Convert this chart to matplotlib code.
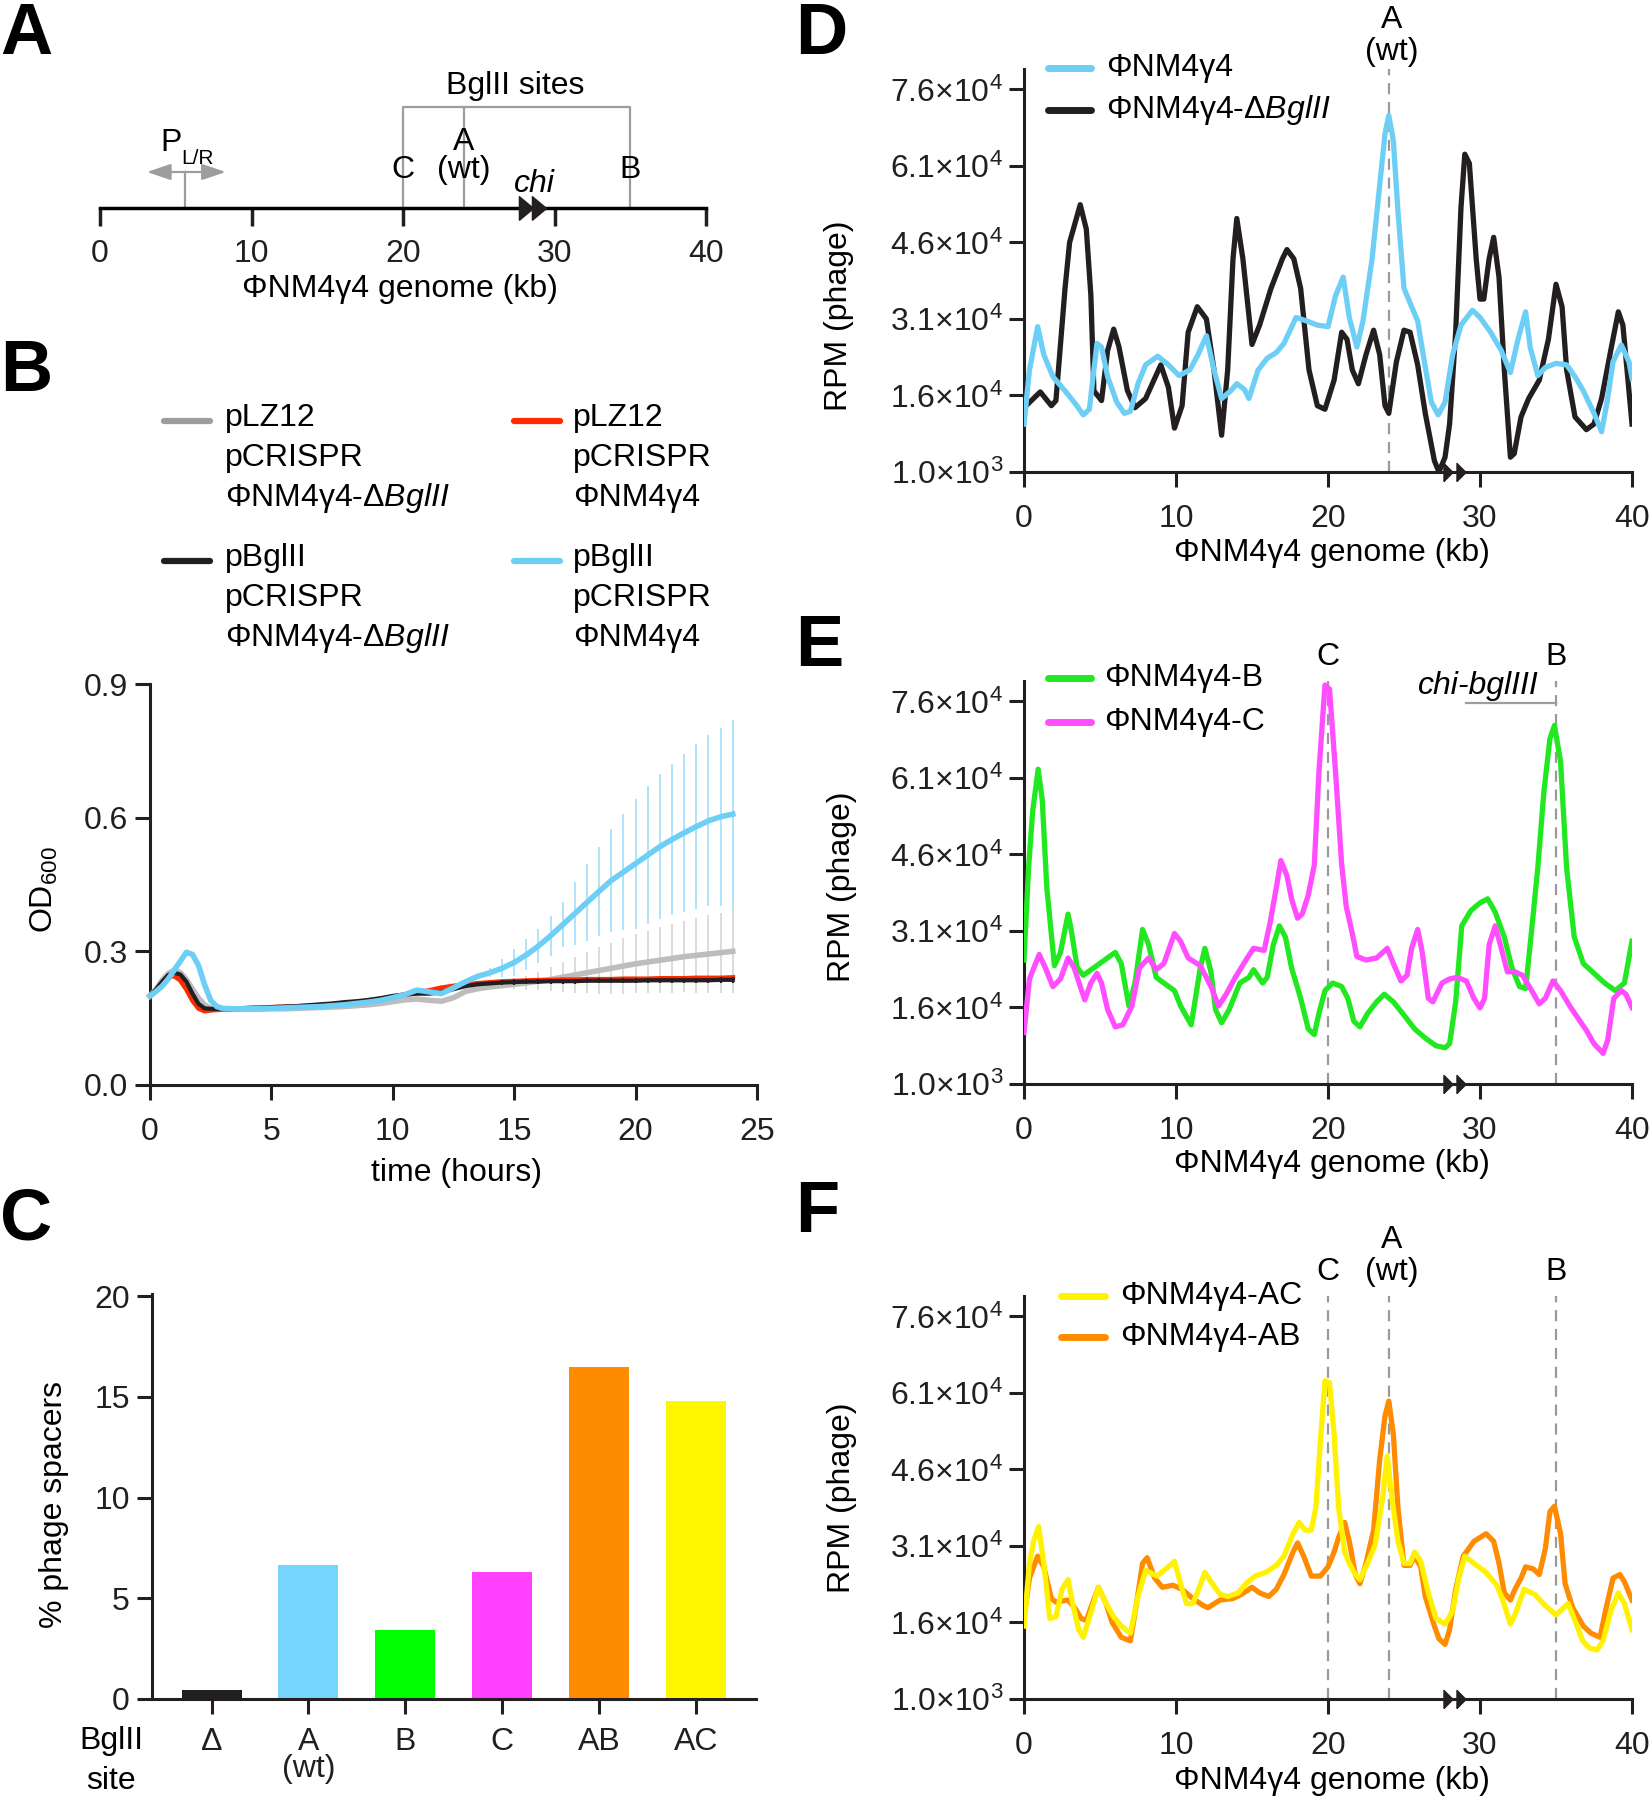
import numpy as np
import matplotlib
matplotlib.use('Agg')
import matplotlib.pyplot as plt
from matplotlib.lines import Line2D

# ---------------- data ----------------
# Panel B : growth curves (OD600)
time_h = np.concatenate([np.arange(0, 3.01, 0.25), np.arange(3.5, 24.01, 0.5)])
od_blue = [0.200, 0.210, 0.222, 0.238, 0.258, 0.278, 0.298, 0.293, 0.268, 0.225, 0.190, 0.176, 0.172,
           0.171, 0.171, 0.172, 0.172, 0.173, 0.174, 0.175, 0.176, 0.178, 0.180, 0.183, 0.186, 0.190, 0.196,
           0.203, 0.213, 0.209, 0.205, 0.218, 0.232, 0.244, 0.252, 0.262, 0.275, 0.292, 0.312, 0.335, 0.360,
           0.385, 0.410, 0.435, 0.459, 0.478, 0.497, 0.516, 0.535, 0.551, 0.566, 0.580, 0.593, 0.602, 0.608]
sd_blue = [0]*13 + [0.002]*20 + [0.006, 0.010, 0.020, 0.030, 0.035, 0.039, 0.045, 0.050, 0.070, 0.087,
           0.100, 0.115, 0.130, 0.146, 0.155, 0.162, 0.170, 0.177, 0.185, 0.192, 0.200, 0.212]
od_grey = [0.200, 0.215, 0.235, 0.250, 0.258, 0.252, 0.237, 0.215, 0.195, 0.180, 0.172, 0.170, 0.170,
           0.170, 0.170, 0.170, 0.171, 0.171, 0.172, 0.173, 0.174, 0.175, 0.176, 0.178, 0.180, 0.183, 0.187,
           0.191, 0.193, 0.190, 0.188, 0.196, 0.210, 0.216, 0.220, 0.223, 0.226, 0.229, 0.233, 0.237, 0.242,
           0.247, 0.252, 0.257, 0.262, 0.267, 0.272, 0.276, 0.280, 0.284, 0.288, 0.291, 0.294, 0.297, 0.300]
sd_grey = [0]*13 + [0.002]*22 + [0.006, 0.010, 0.015, 0.020, 0.027, 0.033, 0.040, 0.046, 0.052, 0.057,
           0.062, 0.066, 0.070, 0.074, 0.077, 0.080, 0.084, 0.087, 0.090, 0.094]
od_red = [0.200, 0.212, 0.228, 0.242, 0.245, 0.235, 0.215, 0.190, 0.172, 0.166, 0.168, 0.169, 0.170,
          0.171, 0.172, 0.173, 0.174, 0.175, 0.176, 0.177, 0.179, 0.181, 0.183, 0.186, 0.189, 0.193, 0.198,
          0.203, 0.207, 0.212, 0.218, 0.222, 0.225, 0.228, 0.230, 0.232, 0.233, 0.234, 0.235, 0.235, 0.236,
          0.236, 0.237, 0.237, 0.237, 0.238, 0.238, 0.238, 0.239, 0.239, 0.239, 0.240, 0.240, 0.240, 0.241]
od_black = [0.200, 0.215, 0.232, 0.247, 0.252, 0.248, 0.232, 0.205, 0.182, 0.172, 0.171, 0.171, 0.172,
            0.172, 0.173, 0.174, 0.175, 0.176, 0.177, 0.179, 0.181, 0.183, 0.186, 0.188, 0.191, 0.195, 0.200,
            0.203, 0.205, 0.205, 0.208, 0.215, 0.222, 0.226, 0.228, 0.230, 0.231, 0.232, 0.232, 0.233, 0.233,
            0.233, 0.234, 0.234, 0.234, 0.234, 0.234, 0.235, 0.235, 0.235, 0.235, 0.235, 0.235, 0.236, 0.236]
sd_black = [0]*13 + [0.002]*22 + [0.006]*20

legend_b = [("pLZ12", "pCRISPR", "ΦNM4γ4-Δ$\\mathit{BglII}$"),
            ("pLZ12", "pCRISPR", "ΦNM4γ4"),
            ("pBglII", "pCRISPR", "ΦNM4γ4-Δ$\\mathit{BglII}$"),
            ("pBglII", "pCRISPR", "ΦNM4γ4")]

# Panel C : % phage spacers
sites = ["Δ", "A\n(wt)", "B", "C", "AB", "AC"]
pct_spacers = [0.45, 6.65, 3.4, 6.3, 16.5, 14.8]

# Panel D-F : RPM ticks
rpm_ticks = [1000, 16000, 31000, 46000, 61000, 76000]
rpm_ticklabels = ["1.0×10$^{3}$", "1.6×10$^{4}$", "3.1×10$^{4}$", "4.6×10$^{4}$", "6.1×10$^{4}$", "7.6×10$^{4}$"]

# Panel D
d_wt_kb = [0, 0.36, 0.9, 1.3, 1.9, 2.7, 3.4, 3.9, 4.3, 4.8, 5.1, 5.5, 6.1, 6.6, 7.0, 7.5, 8.0, 8.8, 9.5, 10.2,
           10.9, 11.4, 12.0, 12.5, 13.0, 13.6, 14.0, 14.5, 14.8, 15.4, 16.0, 16.6, 17.1, 17.9, 18.6, 19.3, 20.0,
           20.5, 21.0, 21.4, 21.9, 22.3, 22.9, 23.4, 23.75, 24.0, 24.3, 24.6, 25.0, 25.5, 25.9, 26.3, 26.8,
           27.25, 27.7, 28.2, 28.75, 29.5, 30.0, 30.7, 31.4, 32.0, 32.5, 33.0, 33.3, 33.8, 34.3, 35.0, 35.7,
           36.25, 36.8, 37.5, 38.0, 38.4, 38.75, 39.3, 39.8, 40]
d_wt_rpm = [10.4, 21, 29.5, 24, 19.7, 16.9, 14.3, 12.2, 13.3, 26.2, 25.5, 19.7, 14.7, 12.5, 12.9, 18.3, 22, 23.7,
            22, 19.9, 21, 23.7, 27.7, 21, 15.4, 16.9, 18.3, 17.2, 15.4, 21, 23.3, 24.4, 26.2, 31.3, 30.6, 29.8,
            29.5, 35.6, 39.2, 31.3, 25.5, 30.6, 42.8, 57.2, 67.3, 70.9, 65.9, 52.2, 37, 33.4, 30.6, 23.3, 14.7,
            12.2, 14.7, 24, 29.8, 32.7, 31.3, 28.4, 24.8, 20.5, 27, 32.4, 25.5, 19.9, 21.5, 22.3, 22, 19.7, 16.9,
            12.5, 8.9, 15.4, 22.6, 25.9, 22.6, 19.4]
d_del_kb = [0, 1.07, 1.8, 2.1, 2.7, 3.0, 3.7, 4.1, 4.4, 4.6, 5.1, 5.5, 5.9, 6.25, 6.8, 7.3, 8.0, 9.0, 9.5, 9.9,
            10.4, 10.8, 11.4, 12.0, 12.5, 13.0, 13.4, 13.75, 14.0, 14.4, 15.0, 15.5, 16.25, 17.0, 17.3, 17.75,
            18.2, 18.75, 19.3, 19.8, 20.4, 20.9, 21.25, 21.6, 22.0, 22.5, 23.0, 23.4, 23.75, 24.0, 24.5, 25.0,
            25.4, 25.9, 26.4, 27.0, 27.3, 27.7, 28.0, 28.4, 28.75, 29.0, 29.3, 29.75, 30.0, 30.25, 30.6, 30.9,
            31.25, 31.6, 32.0, 32.25, 32.7, 33.2, 33.9, 34.5, 35.0, 35.4, 35.7, 36.25, 37.0, 37.5, 38.0, 38.6,
            39.1, 39.4, 39.8, 40]
d_del_rpm = [13.6, 16.7, 14, 15, 37, 46, 53.4, 48.6, 35.6, 16.9, 15, 24.8, 29, 25.5, 17, 13.6, 15.4, 22, 17.6,
             9.6, 14, 28.4, 33.4, 31, 21, 8.2, 21, 42.8, 50.7, 42.8, 26, 29.8, 37, 42.8, 44.6, 42.8, 37, 21, 14,
             13.3, 19, 28.4, 27, 21, 18.3, 24, 28.8, 24, 14, 12.5, 22.6, 28.8, 28.4, 22, 12.5, 3.2, 1, 3.9, 10.4,
             28.4, 52.9, 63.3, 61.5, 42.8, 34.9, 34.9, 42.8, 47, 39.2, 21, 3.9, 4.6, 11.8, 15.4, 19, 27, 37.8,
             33.4, 21, 11.8, 9.3, 10.4, 15.4, 24.8, 32.4, 29.8, 16.9, 10.4]

# Panel E
e_b_kb = [0, 0.3, 0.57, 0.93, 1.2, 1.5, 2.0, 2.4, 2.9, 3.1, 3.5, 3.9, 4.6, 5.3, 6.0, 6.4, 6.9, 7.3, 7.8, 8.2,
          8.7, 9.2, 9.9, 10.3, 11.0, 11.6, 11.9, 12.3, 12.6, 13.0, 13.5, 14.2, 14.8, 15.1, 15.7, 16.0, 16.4,
          16.8, 17.2, 17.6, 18.2, 18.7, 19.1, 19.4, 19.8, 20.3, 20.9, 21.3, 21.7, 22.1, 22.6, 23.2, 23.7, 24.3,
          25.0, 25.7, 26.4, 27.1, 27.7, 28.0, 28.4, 28.8, 29.4, 30.0, 30.5, 31.0, 31.6, 32.1, 32.6, 33.0, 33.3,
          33.8, 34.2, 34.6, 34.9, 35.3, 35.7, 36.2, 36.8, 37.5, 38.2, 38.9, 39.5, 40]
e_b_rpm = [25.3, 43.3, 54.5, 62.7, 56.7, 39.5, 24.2, 26.8, 34.3, 31.3, 23.8, 22.3, 23.8, 25.3, 26.8, 24.6, 16.3,
           20.8, 31.3, 28.3, 21.9, 20.8, 19.3, 16.3, 12.6, 23.8, 27.6, 23, 15.6, 13, 15.6, 20.8, 21.9, 23.4,
           20.8, 21.9, 28.3, 32, 29.8, 23.8, 17.8, 11.8, 10.7, 14.8, 19.3, 20.8, 20.1, 17.8, 13.3, 12.2, 14.8,
           17.1, 18.6, 17.1, 14.5, 11.8, 10, 8.5, 8.1, 8.9, 17.1, 32, 35, 36.5, 37.3, 34.7, 29.8, 23.8, 20.1,
           19.7, 28.3, 43.3, 58.2, 68.7, 71.3, 64.2, 43.3, 29.8, 24.6, 22.7, 20.8, 19.3, 20.8, 29]
e_c_kb = [0, 0.36, 1.0, 1.4, 1.9, 2.4, 2.9, 3.3, 3.7, 4.0, 4.4, 4.8, 5.1, 5.5, 6.0, 6.5, 7.1, 7.6, 8.2, 8.7, 9.2,
          9.9, 10.3, 10.8, 11.6, 12.3, 12.8, 13.3, 13.9, 14.6, 15.1, 15.8, 16.2, 16.6, 16.9, 17.3, 17.6, 18.0,
          18.3, 18.7, 19.1, 19.4, 19.8, 20.1, 20.5, 20.9, 21.2, 21.6, 21.9, 22.5, 23.2, 23.9, 24.3, 24.8, 25.2,
          25.5, 25.9, 26.2, 26.6, 26.9, 27.5, 28.0, 28.5, 29.1, 29.6, 30.0, 30.3, 30.6, 31.0, 31.4, 31.8, 32.3,
          32.8, 33.4, 33.9, 34.3, 34.8, 35.3, 35.9, 36.4, 37.0, 37.5, 38.1, 38.4, 38.8, 39.3, 39.6, 40]
e_c_rpm = [11.1, 21.6, 26.4, 23.8, 20.1, 21.6, 25.7, 23.8, 20.1, 17.5, 20.8, 22.7, 20.8, 15.6, 12.2, 12.6, 16.3,
           23.8, 25.7, 23.4, 24.6, 30.5, 29, 25.7, 24.2, 20.1, 16.3, 18.6, 21.9, 25.3, 27.6, 27.2, 32.8, 39.5,
           44.8, 41.8, 37.3, 33.5, 34.3, 38, 44, 62, 79.2, 78.4, 62, 44, 35.8, 30.5, 26, 25.3, 25.7, 27.6, 24.6,
           21.2, 22.3, 27.6, 31.3, 26.8, 17.8, 17.1, 20.8, 21.6, 21.9, 21.2, 17.8, 15.9, 17.8, 28.3, 32, 27.6,
           23, 23, 22.3, 19.3, 16.7, 17.8, 21.2, 19.3, 16.3, 14.1, 11.5, 8.9, 7, 9.6, 17.8, 19.3, 18.6, 16]

# Panel F
f_ac_kb = [0, 0.36, 0.64, 0.96, 1.3, 1.7, 2.1, 2.5, 2.9, 3.2, 3.6, 3.9, 4.5, 4.9, 5.4, 5.9, 6.4, 7.0, 7.5, 8.0,
           8.75, 9.5, 9.9, 10.4, 10.7, 11.1, 11.4, 11.9, 12.3, 12.9, 13.4, 14.1, 14.6, 15.2, 15.9, 16.6, 17.1,
           17.7, 18.1, 18.5, 18.9, 19.2, 19.5, 19.8, 20.1, 20.4, 20.7, 21.1, 21.4, 21.8, 22.1, 22.6, 23.1, 23.6,
           23.9, 24.2, 24.6, 25.0, 25.4, 25.7, 26.1, 26.6, 27.1, 27.7, 28.2, 28.6, 29.0, 29.6, 30.4, 31.1, 31.5,
           32.0, 32.3, 32.9, 33.6, 34.3, 35.0, 35.4, 35.8, 36.3, 36.75, 37.2, 37.7, 38.1, 38.6, 39.1, 39.5, 40]
f_ac_rpm = [15.3, 27.6, 32, 34.8, 27.6, 16.8, 17.1, 22.5, 24.4, 19.7, 14.6, 13.1, 18.9, 22.9, 19.7, 17.1, 15.3,
            13.9, 21.1, 26.2, 25.1, 26.9, 28, 22.5, 19.7, 19.7, 21.8, 25.8, 24, 21.5, 21.1, 21.8, 23.6, 25.1,
            25.8, 27.2, 29, 33.4, 35.6, 34.1, 34.1, 38.5, 51.5, 63.4, 63, 52.9, 38.5, 29.8, 27.6, 25.4, 24.4,
            27.6, 31.2, 40.6, 48.6, 40.6, 31.9, 27.6, 27.6, 29.8, 28, 21.8, 16.8, 15.7, 18.2, 24.7, 29, 27.6,
            25.8, 23.3, 20.4, 15.7, 17.5, 22.5, 21.5, 19.3, 17.5, 18.6, 19.7, 16, 12.4, 11, 10.6, 12.4, 18.2,
            21.8, 19.7, 14.6]
f_ab_kb = [0, 0.36, 0.9, 1.3, 1.8, 2.1, 2.9, 3.4, 3.75, 4.1, 4.5, 4.9, 5.4, 5.8, 6.4, 7.0, 7.4, 7.8, 8.1, 8.6,
           9.1, 9.8, 10.4, 11.1, 11.8, 12.1, 12.9, 13.75, 14.3, 15.0, 15.5, 16.1, 16.6, 17.1, 17.7, 18.0, 18.4,
           18.9, 19.5, 20.0, 20.4, 20.7, 21.1, 21.4, 21.8, 22.1, 22.5, 23.0, 23.4, 23.75, 24.0, 24.3, 24.6, 25.0,
           25.4, 25.7, 26.1, 26.4, 27.0, 27.3, 27.7, 28.0, 28.4, 28.9, 29.6, 30.4, 30.9, 31.25, 31.6, 32.0, 32.3,
           32.7, 33.0, 33.5, 33.9, 34.3, 34.6, 34.9, 35.3, 35.6, 36.1, 36.8, 37.3, 37.9, 38.25, 38.75, 39.2,
           39.5, 40]
f_ab_rpm = [17.1, 24.7, 29, 26.9, 20.7, 20, 20.4, 18.6, 16.8, 16.4, 19.7, 22.9, 19.7, 16, 13.1, 12.4, 19.7,
            27.6, 28.7, 24.7, 22.9, 23.3, 22.5, 20.7, 19.3, 18.9, 20.4, 20.7, 21.5, 22.9, 21.8, 21.1, 22.5, 25.4,
            29.8, 31.6, 29, 25.1, 25.1, 26.9, 29.8, 32.7, 35.6, 31.9, 25.4, 23.6, 27.6, 34.1, 47.9, 56.5, 59.4,
            52.9, 38.5, 27.2, 27.2, 29, 26.9, 21.1, 15.3, 12.8, 11.7, 14.6, 22.5, 29, 31.9, 33.4, 31.9, 27.6,
            21.8, 20.4, 22.5, 24.7, 26.9, 26.5, 25.4, 30.5, 37.7, 38.8, 33.4, 23.6, 18.9, 15.3, 13.9, 13.1, 18.2,
            24.7, 25.4, 24, 20.4]

# ---------------- style ----------------
W, H = 1651, 1800
plt.rcParams['font.family'] = ['Liberation Sans', 'DejaVu Sans']
plt.rcParams['mathtext.fontset'] = 'custom'
plt.rcParams['mathtext.rm'] = 'Liberation Sans'
plt.rcParams['mathtext.it'] = 'Liberation Sans:italic'
plt.rcParams['mathtext.bf'] = 'Liberation Sans:bold'
FS = 23
K = '#231F20'
GREY = '#9D9D9D'
C_BLUE = '#6DCFF6'
C_RED = '#FF2A00'
C_GREYL = '#BDBDBD'
C_GREEN = '#22E822'
C_MAG = '#FF4DFF'
C_ORANGE = '#FF8C00'
C_YELLOW = '#FFF200'

fig = plt.figure(figsize=(W / 100, H / 100), dpi=100)


def fx(x):
    return x / W


def fy(y):
    return 1 - y / H


def axbox(l, t, r, b):
    return fig.add_axes([fx(l), fy(b), (r - l) / W, (b - t) / H])


def ftext(x, y, s, fontsize=None, ha='center', va='center', **kw):
    fig.text(fx(x), fy(y), s, fontsize=FS if fontsize is None else fontsize, ha=ha, va=va, **kw)


def fline(x0, x1, y, color, lw=4.5):
    fig.add_artist(Line2D([fx(x0), fx(x1)], [fy(y), fy(y)], color=color, lw=lw,
                          solid_capstyle='round', transform=fig.transFigure))


def style(ax):
    for s in ['top', 'right']:
        ax.spines[s].set_visible(False)
    for s in ['left', 'bottom']:
        ax.spines[s].set_linewidth(2.2)
        ax.spines[s].set_color(K)
    ax.tick_params(width=2.2, length=11, labelsize=FS, colors=K)
    ax.tick_params(axis='x', pad=12)
    ax.tick_params(axis='y', pad=5)


chi_marker = [(-0.5, -1), (0.5, 0), (-0.5, 1), (-0.5, -1)]

# panel letters
for letter, x, y in [("A", 0, 54), ("B", 0, 391), ("C", 0, 1240), ("D", 795, 54), ("E", 795, 666), ("F", 795, 1232)]:
    fig.text(fx(x), fy(y), letter, fontsize=52, fontweight='bold', ha='left', va='baseline', color='black')

# ---------------- Panel A ----------------
axa = axbox(100, 60, 706, 208)
axa.set_xlim(0, 40)
axa.set_ylim(0, 148)
for s in ['top', 'right', 'left']:
    axa.spines[s].set_visible(False)
axa.spines['bottom'].set_linewidth(2.5)
axa.set_xticks([0, 10, 20, 30, 40])
axa.set_yticks([])
axa.tick_params(axis='x', width=2.5, length=13, labelsize=FS, pad=9, colors=K)
axa.patch.set_alpha(0)
axa.plot([20, 20, 35, 35], [0, 101, 101, 0], color=GREY, lw=1.6, clip_on=False)
axa.plot([24, 24], [0, 101], color=GREY, lw=1.6, clip_on=False)
axa.plot([5.64, 5.64], [0, 36], color=GREY, lw=1.6, clip_on=False)
axa.annotate('', xy=(3.1, 36), xytext=(8.3, 36),
             arrowprops=dict(arrowstyle='<|-|>,head_length=0.5,head_width=0.17', color=GREY, lw=1.6,
                             mutation_scale=29, shrinkA=0, shrinkB=0))
axa.text(27.4, 122, "BglII sites", fontsize=FS, ha='center', va='center')
axa.text(20, 38, "C", fontsize=FS, ha='center', va='center')
axa.text(24, 66, "A", fontsize=FS, ha='center', va='center')
axa.text(24, 38, "(wt)", fontsize=FS, ha='center', va='center')
axa.text(35, 38, "B", fontsize=FS, ha='center', va='center')
axa.text(28.7, 24, "chi", fontsize=FS, ha='center', va='center', fontstyle='italic')
axa.text(4.7, 65, "P", fontsize=FS, ha='center', va='center')
axa.text(6.45, 50, "L/R", fontsize=15, ha='center', va='center')
axa.plot([28.15, 28.95], [0, 0], ls='none', marker=[(-0.6, -1), (0.6, 0), (-0.6, 1), (-0.6, -1)],
         ms=17, color=K, clip_on=False, zorder=5)
ftext(400, 289, "ΦNM4γ4 genome (kb)")

# ---------------- Panel B ----------------
axb = axbox(150, 684, 757, 1085)
style(axb)
axb.set_xlim(0, 25)
axb.set_ylim(0, 0.9)
axb.set_xticks([0, 5, 10, 15, 20, 25])
axb.set_yticks([0, 0.3, 0.6, 0.9])
axb.set_yticklabels(["0.0", "0.3", "0.6", "0.9"])
axb.errorbar(time_h, od_grey, yerr=sd_grey, fmt='none', ecolor='#D9D9D9', elinewidth=1.3, capsize=0, zorder=1)
axb.errorbar(time_h, od_blue, yerr=sd_blue, fmt='none', ecolor='#A9E2FA', elinewidth=1.3, capsize=0, zorder=1)
axb.plot(time_h, od_grey, color=C_GREYL, lw=4, zorder=3, clip_on=False)
axb.plot(time_h, od_red, color=C_RED, lw=3.6, zorder=3, clip_on=False)
axb.errorbar(time_h, od_black, yerr=sd_black, fmt='none', ecolor=K, elinewidth=1.6, capsize=0, zorder=4)
axb.plot(time_h, od_black, color=K, lw=3.0, zorder=4, clip_on=False)
axb.plot(time_h, od_blue, color=C_BLUE, lw=4, zorder=5, clip_on=False)
ftext(456, 1173, "time (hours)")
ftext(44, 890, "OD$_{600}$", rotation=90)

leg_cols = [GREY, C_RED, K, C_BLUE]
leg_pos = [(164, 225, 418), (514, 573, 418), (164, 225, 558), (514, 573, 558)]
for (lx, tx, ty), col, lines in zip(leg_pos, leg_cols, legend_b):
    fline(lx, lx + 46, ty + 3, col, lw=4.5)
    for i, s in enumerate(lines):
        ftext(tx, ty + 40 * i, s, ha='left')

# ---------------- Panel C ----------------
axc = axbox(152, 1294, 756, 1699)
style(axc)
axc.set_xlim(-0.615, 5.62)
axc.set_ylim(0, 20.1)
bar_cols = [K, '#75D5FF', '#00FF00', '#FF40FF', '#FF8C00', '#FFF700']
axc.bar(range(len(sites)), pct_spacers, width=0.62, color=bar_cols, zorder=2)
axc.set_xticks(range(len(sites)))
axc.set_xticklabels(sites, linespacing=0.9, va='top')
axc.tick_params(axis='x', pad=9)
axc.set_yticks([0, 5, 10, 15, 20])
ftext(111, 1741, "BglII")
ftext(111, 1781, "site")
ftext(54, 1504, "% phage spacers", rotation=90)


# ---------------- Panels D-F ----------------
def rpm_axes(t, b):
    ax = axbox(1024, t, 1632, b)
    style(ax)
    ax.set_xlim(0, 40)
    ax.set_ylim(1000, 80000)
    ax.set_xticks([0, 10, 20, 30, 40])
    ax.set_yticks(rpm_ticks)
    ax.set_yticklabels(rpm_ticklabels)
    ax.tick_params(axis='y', pad=4)
    ax.plot([27.9, 28.75], [1000, 1000], ls='none', marker=chi_marker, ms=13, color=K,
            clip_on=False, zorder=6)
    return ax


def dash(ax, x):
    ax.plot([x, x], [1000, 80000], color='#9A9A9A', lw=1.6, ls=(0, (5, 3.5)), zorder=1, clip_on=False)


k = 1000.0
LW = 3.8
axd = rpm_axes(69, 472)
dash(axd, 24)
axd.plot(d_del_kb, np.array(d_del_rpm) * k, color=K, lw=LW, zorder=3, solid_joinstyle='round')
axd.plot(d_wt_kb, np.array(d_wt_rpm) * k, color=C_BLUE, lw=LW, zorder=4, solid_joinstyle='round')
ftext(1392, 20, "A")
ftext(1392, 52, "(wt)")
fline(1048, 1091, 68, C_BLUE, lw=5)
ftext(1106, 68, "ΦNM4γ4", ha='left')
fline(1048, 1091, 110, K, lw=5)
ftext(1106, 110, "ΦNM4γ4-Δ$\\mathit{BglII}$", ha='left')
ftext(839, 316, "RPM (phage)", rotation=90)
ftext(1332, 553, "ΦNM4γ4 genome (kb)")

axe = rpm_axes(681, 1084)
dash(axe, 20)
dash(axe, 35)
axe.plot(e_b_kb, np.array(e_b_rpm) * k, color=C_GREEN, lw=LW, zorder=3, solid_joinstyle='round')
axe.plot(e_c_kb, np.array(e_c_rpm) * k, color=C_MAG, lw=LW, zorder=4, solid_joinstyle='round')
ftext(1328, 657, "C")
ftext(1556, 657, "B")
ftext(1478, 686, "chi-bglIII", fontstyle='italic')
fig.add_artist(Line2D([fx(1466), fx(1556)], [fy(703), fy(703)], color=GREY, lw=1.6, transform=fig.transFigure))
fline(1048, 1091, 678, C_GREEN, lw=5)
ftext(1104, 678, "ΦNM4γ4-B", ha='left')
fline(1048, 1091, 722, C_MAG, lw=5)
ftext(1104, 722, "ΦNM4γ4-C", ha='left')
ftext(842, 887, "RPM (phage)", rotation=90)
ftext(1332, 1164, "ΦNM4γ4 genome (kb)")

axf = rpm_axes(1296, 1699)
dash(axf, 20)
dash(axf, 24)
dash(axf, 35)
axf.plot(f_ab_kb, np.array(f_ab_rpm) * k, color=C_ORANGE, lw=LW, zorder=3, solid_joinstyle='round')
axf.plot(f_ac_kb, np.array(f_ac_rpm) * k, color=C_YELLOW, lw=LW, zorder=4, solid_joinstyle='round')
ftext(1328, 1272, "C")
ftext(1392, 1240, "A")
ftext(1392, 1272, "(wt)")
ftext(1556, 1272, "B")
fline(1061, 1105, 1296, C_YELLOW, lw=5)
ftext(1120, 1296, "ΦNM4γ4-AC", ha='left')
fline(1061, 1105, 1337, C_ORANGE, lw=5)
ftext(1120, 1337, "ΦNM4γ4-AB", ha='left')
ftext(842, 1498, "RPM (phage)", rotation=90)
ftext(1332, 1781, "ΦNM4γ4 genome (kb)")

fig.savefig("out.png", dpi=100)
